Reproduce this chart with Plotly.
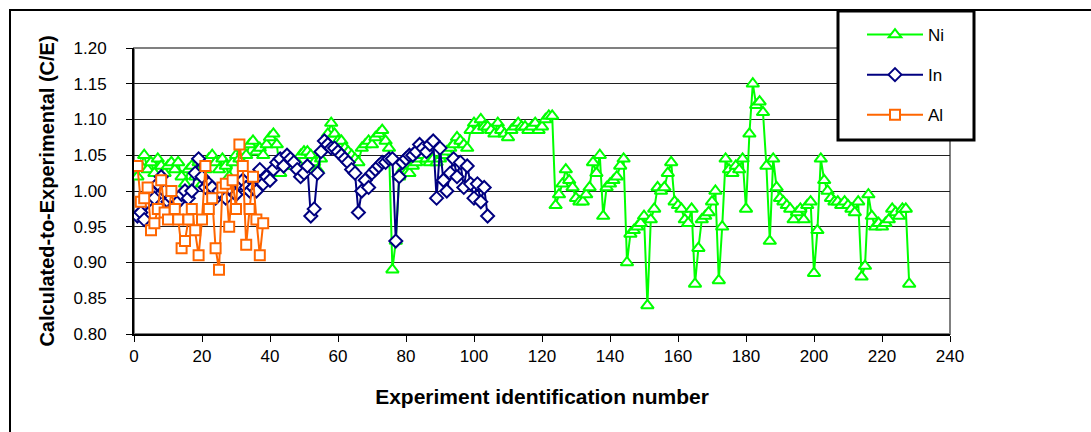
import plotly.graph_objects as go

# ---------------- data ----------------
ni_x = list(range(1, 229))
ni_y = [
    1.02, 1.035, 1.05, 1.03, 1.04, 1.025, 1.045, 1.035, 1.025, 1.035,
    1.04, 1.03, 1.04, 1.02, 1.01, 1.03, 1.035, 1.02, 1.04, 1.01,
    1.03, 1.045, 1.05, 1.04, 1.03, 1.045, 1.035, 1.02, 1.04, 1.05,
    1.045, 1.055, 1.05, 1.065, 1.07, 1.055, 1.06, 1.05, 1.065, 1.075,
    1.08, 1.065, 1.025, 1.035, 1.04, 1.045, 1.035, 1.04, 1.05, 1.055,
    1.055, 1.05, 1.04, 1.03, 1.045, 1.06, 1.08, 1.095, 1.08, 1.07,
    1.07, 1.06, 1.055, 1.05, 1.045, 1.04, 1.06, 1.065, 1.07, 1.065,
    1.075, 1.08, 1.085, 1.07, 1.06, 0.89, 0.93, 1.02, 1.03, 1.025,
    1.025, 1.035, 1.04, 1.045, 1.05, 1.045, 1.04, 1.045, 1.04, 1.045,
    1.05, 1.055, 1.06, 1.065, 1.075, 1.07, 1.065, 1.06, 1.085, 1.095,
    1.085, 1.10, 1.09, 1.09, 1.085, 1.08, 1.095, 1.085, 1.08, 1.075,
    1.085, 1.09, 1.095, 1.09, 1.09, 1.085, 1.09, 1.095, 1.085, 1.09,
    1.10, 1.105, 1.105, 0.98, 0.995, 1.01, 1.03, 1.015, 1.005, 0.99,
    0.985, 0.985, 0.995, 1.005, 1.04, 1.025, 1.05, 0.965, 1.005, 1.01,
    1.015, 1.02, 1.035, 1.045, 0.90, 0.94, 0.945, 0.95, 0.955, 0.965,
    0.84, 0.96, 0.975, 1.005, 1.00, 1.005, 1.025, 1.04, 0.985, 0.98,
    0.975, 0.96, 0.955, 0.975, 0.87, 0.92, 0.96, 0.965, 0.97, 0.985,
    1.00, 0.875, 0.95, 1.045, 1.03, 1.025, 1.035, 1.03, 1.045, 0.975,
    1.08, 1.15, 1.12, 1.125, 1.11, 1.035, 0.93, 1.045, 1.005, 0.99,
    0.985, 0.98, 0.975, 0.96, 0.97, 0.975, 0.96, 0.98, 0.985, 0.885,
    0.945, 1.045, 1.015, 1.00, 0.99, 0.985, 0.985, 0.98, 0.985, 0.98,
    0.975, 0.97, 0.985, 0.88, 0.895, 0.995, 0.965, 0.95, 0.955, 0.95,
    0.955, 0.96, 0.975, 0.97, 0.965, 0.975, 0.975, 0.87,
]

in_x = list(range(1, 105))
in_y = [
    0.965, 0.97, 0.96, 0.985, 1.00, 0.99, 1.01, 1.02, 1.00, 0.985,
    0.99, 0.98, 0.985, 0.995, 1.00, 0.99, 1.00, 1.025, 1.045, 1.02,
    1.005, 1.01, 1.005, 0.99, 1.00, 0.995, 0.99, 1.005, 1.00, 0.995,
    1.01, 1.015, 1.005, 1.00, 1.005, 1.00, 1.03, 1.01, 1.02, 1.015,
    1.03, 1.04, 1.045, 1.035, 1.05, 1.045, 1.04, 1.03, 1.02, 1.025,
    1.035, 0.965, 0.975, 1.025, 1.055, 1.07, 1.065, 1.06, 1.06, 1.055,
    1.05, 1.045, 1.04, 1.03, 1.025, 0.97, 1.00, 1.015, 1.005, 1.025,
    1.03, 1.035, 1.04, 1.04, 1.045, 1.045, 0.93, 1.02, 1.04, 1.045,
    1.05, 1.05, 1.055, 1.065, 1.06, 1.055, 1.065, 1.07, 0.99, 1.06,
    1.015, 1.00, 1.025, 1.045, 1.02, 1.04, 1.005, 1.035, 1.01, 0.99,
    1.01, 0.985, 1.005, 0.965,
]

al_x = list(range(1, 39))
al_y = [
    1.035, 0.985, 0.99, 1.005, 0.945, 0.955, 0.975, 1.015, 0.97, 0.96,
    1.00, 0.975, 0.96, 0.92, 0.93, 0.96, 0.975, 0.945, 0.91, 0.96,
    1.035, 0.975, 0.99, 0.92, 0.89, 1.005, 1.01, 0.95, 1.015, 0.975,
    1.065, 1.035, 0.925, 0.975, 1.02, 0.96, 0.91, 0.955,
]

x_ticks = list(range(0, 241, 20))
y_ticks = [0.80, 0.85, 0.90, 0.95, 1.00, 1.05, 1.10, 1.15, 1.20]

# ---------------- figure ----------------
W, H = 1091, 432
L, R, T, B = 134, 141, 48, 98
pw, ph = W - L - R, H - T - B


def px2paper_x(px):
    return (px - L) / pw


def px2paper_y(py):
    return (H - B - py) / ph


fig = go.Figure()

fig.add_trace(go.Scatter(
    x=ni_x, y=ni_y, name="Ni", mode="lines+markers", legendgroup="a",
    line=dict(color="#00FF00", width=2),
    marker=dict(symbol="triangle-up", size=11, color="white",
                line=dict(color="#00FF00", width=2)),
))
fig.add_trace(go.Scatter(
    x=in_x, y=in_y, name="In", mode="lines+markers", legendgroup="b",
    line=dict(color="#000080", width=2),
    marker=dict(symbol="diamond", size=10, color="white",
                line=dict(color="#000080", width=2)),
))
fig.add_trace(go.Scatter(
    x=al_x, y=al_y, name="Al", mode="lines+markers", legendgroup="c",
    line=dict(color="#FF6600", width=2),
    marker=dict(symbol="square", size=10, color="white",
                line=dict(color="#FF6600", width=2)),
))

font_family = "Liberation Sans, Arial, sans-serif"

fig.update_layout(
    width=W, height=H,
    margin=dict(l=L, r=R, t=T, b=B, pad=0),
    paper_bgcolor="white", plot_bgcolor="white",
    font=dict(family=font_family, size=17, color="black"),
    showlegend=True,
    legend=dict(
        x=px2paper_x(862), y=px2paper_y(17), xanchor="left", yanchor="top",
        bgcolor="rgba(0,0,0,0)", borderwidth=0,
        font=dict(size=17, family=font_family),
        traceorder="grouped", tracegroupgap=15, itemwidth=56,
    ),
    xaxis=dict(
        range=[0, 240], tickvals=x_ticks, ticktext=[str(v) for v in x_ticks],
        showgrid=False, zeroline=False,
        showline=True, linecolor="black", linewidth=2,
        ticks="outside", ticklen=6, tickcolor="black", tickwidth=1,
        tickfont=dict(size=17),
        title=dict(text="<b>Experiment identification number</b>",
                   font=dict(size=21), standoff=24),
    ),
    yaxis=dict(
        range=[0.80, 1.20], tickvals=y_ticks,
        ticktext=[f"{v:.2f}" for v in y_ticks],
        showgrid=True, gridcolor="#202020", gridwidth=1,
        zeroline=False,
        showline=True, linecolor="black", linewidth=2,
        ticks="outside", ticklen=6, tickcolor="black", tickwidth=1,
        ticklabelstandoff=16,
        tickfont=dict(size=17),
        title=dict(text="<b>Calculated-to-Experimental (C/E)</b>",
                   font=dict(size=20), standoff=14),
    ),
    shapes=[
        # plot-area border (grey)
        dict(type="rect", xref="paper", yref="paper", x0=0, y0=0, x1=1, y1=1,
             line=dict(color="#808080", width=2), layer="below"),
        # outer chart frame
        dict(type="rect", xref="paper", yref="paper",
             x0=px2paper_x(10), y0=px2paper_y(440),
             x1=px2paper_x(1100), y1=px2paper_y(10),
             line=dict(color="black", width=2), layer="below"),
        # legend box
        dict(type="rect", xref="paper", yref="paper",
             x0=px2paper_x(838), y0=px2paper_y(140),
             x1=px2paper_x(974), y1=px2paper_y(11),
             fillcolor="white", line=dict(color="black", width=3),
             layer="above"),
    ],
)

fig.write_html("out.html")
